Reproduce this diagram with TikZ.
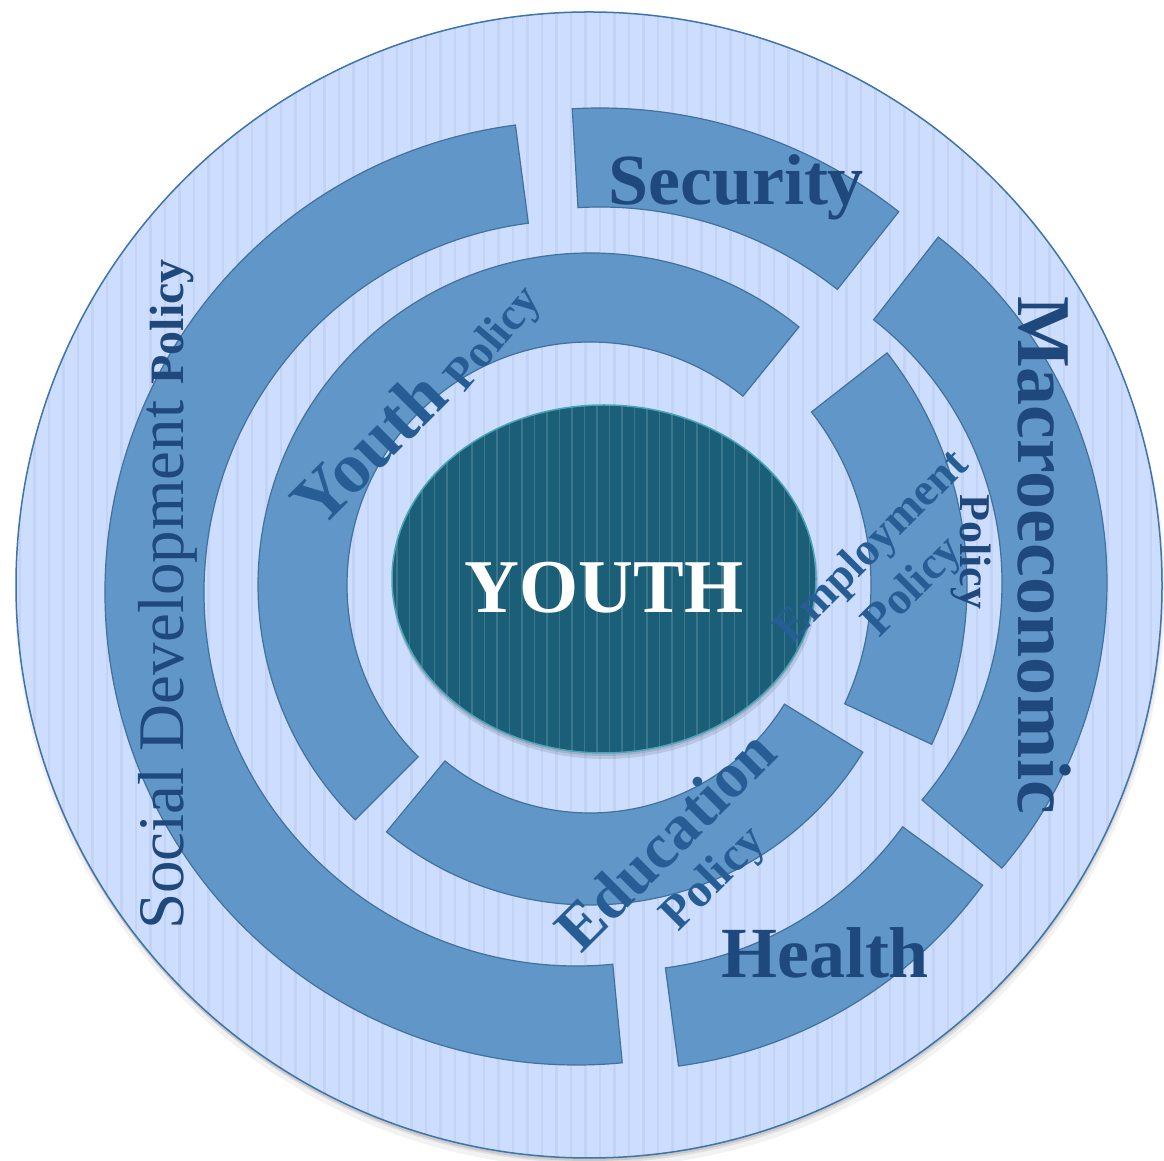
\documentclass[tikz,border=0pt]{standalone}
\usepackage{fontspec}
\setmainfont{Liberation Serif}
\usetikzlibrary{calc}
\definecolor{discfill}{RGB}{205,221,253}
\definecolor{discstripe}{RGB}{195,211,246}
\definecolor{discborder}{RGB}{62,115,172}
\definecolor{arcfill}{RGB}{96,150,200}
\definecolor{arcborder}{RGB}{66,113,156}
\definecolor{darktext}{RGB}{31,73,125}
\definecolor{midtext}{RGB}{38,93,148}
\definecolor{ellfill}{RGB}{27,94,119}
\definecolor{ellstripe}{RGB}{58,119,140}
\definecolor{ellborder}{RGB}{75,165,185}
\tikzset{
  arcshape/.style={fill=arcfill, draw=arcborder, line width=1.2pt, line join=miter},
  bigword/.style={inner sep=0pt, text=darktext, font=\fontsize{72}{80}\selectfont\bfseries},
  ringword/.style={inner sep=0pt, text=midtext},
}
\newcommand{\blockarc}[5]{%
  \draw[arcshape] ($(#1)+(#2:#4)$) arc[start angle=#2, end angle=#3, radius=#4]
    -- ($(#1)+(#3:#5)$) arc[start angle=#3, end angle=#2, radius=#5] -- cycle;}
\begin{document}
\begin{tikzpicture}[x=1pt,y=1pt]
\useasboundingbox (0,0) rectangle (1164,1161);
\fill[white] (0,0) rectangle (1164,1161);
\coordinate (O) at (589,576);
\coordinate (C) at (590,576);
\coordinate (Csoc) at (577,568);
\coordinate (Csec) at (600,571);
\coordinate (Cmac) at (668,578);
\coordinate (Chea) at (619,541);
\coordinate (E) at (604,582);
% shadow of disc
\fill[black,opacity=0.05] ($(O)+(1,-8)$) circle (575);
\fill[black,opacity=0.08] ($(O)+(1,-5)$) circle (573);
\fill[black,opacity=0.10] ($(O)+(0,-3)$) circle (573);
% disc with stripes
\begin{scope}
  \clip (O) circle (573);
  \fill[discfill] (0,0) rectangle (1164,1161);
  \foreach \x in {4,18.5,...,1164} \fill[discstripe] (\x,0) rectangle ++(2.5,1161);
\end{scope}
\draw[discborder, line width=1.5pt] (O) circle (573);
% outer ring
\blockarc{Csoc}{97.5}{275.5}{472}{373}
\blockarc{Csec}{51.7}{93.3}{482}{383}
\blockarc{Cmac}{-40.5}{52}{439}{334}
\blockarc{Chea}{-82.4}{-36.1}{450}{351}
% inner ring
\blockarc{C}{51}{225}{332}{243}
\blockarc{C}{-25}{38}{377}{281}
\blockarc{C}{230.5}{328.5}{320}{228}
% central ellipse
\fill[black,opacity=0.10] ($(E)+(1,-5)$) ellipse [x radius=213, y radius=175];
\fill[black,opacity=0.10] ($(E)+(0,-3)$) ellipse [x radius=212, y radius=174];
\begin{scope}
  \clip (E) ellipse [x radius=212, y radius=174];
  \fill[ellfill] (380,400) rectangle (830,770);
  \foreach \x in {396,408.5,...,820} \fill[ellstripe] (\x,400) rectangle ++(1.8,370);
\end{scope}
\draw[ellborder, line width=1.5pt] (E) ellipse [x radius=212, y radius=174];
% texts
\node[bigword, anchor=base] (sec) at (736,956) {Security};
\node[bigword, anchor=base] (hea) at (825,183) {Health};
\node[bigword, anchor=base, rotate=-90, font=\fontsize{76}{80}\selectfont\bfseries] (mac) at (1018,606) {Macroeconomic};
\node[inner sep=0pt, text=darktext, anchor=base west, rotate=90] (soc) at (183,231)
  {\fontsize{65}{70}\selectfont Social Development {\fontsize{48}{50}\selectfont\bfseries Policy}};
\node[inner sep=0pt, text=white, anchor=base, font=\fontsize{76}{80}\selectfont\bfseries] (you) at (604,548) {YOUTH};
\node[ringword, rotate=45, font=\fontsize{72}{80}\selectfont\bfseries] (yw) at (368,713) {Youth};
\node[ringword, rotate=50, font=\fontsize{46}{50}\selectfont\bfseries] (yp) at (495,821) {Policy};
\node[ringword, rotate=45, font=\fontsize{46}{50}\selectfont\bfseries] (ew) at (873,613) {Employment};
\node[ringword, rotate=45, font=\fontsize{46}{50}\selectfont\bfseries] (ep) at (914,573) {Policy};
\begin{scope}
  \clip (930,549) rectangle (1010,720);
  \node[inner sep=0pt, text=darktext, anchor=base west, rotate=-90, font=\fontsize{44}{48}\selectfont\bfseries] (vp) at (960,667) {Policy};
\end{scope}
\node[ringword, rotate=45, font=\fontsize{64}{70}\selectfont\bfseries] (dw) at (665,321) {Education};
\node[ringword, rotate=45, font=\fontsize{48}{50}\selectfont\bfseries] (dp) at (715,281) {Policy};
\end{tikzpicture}
\end{document}
